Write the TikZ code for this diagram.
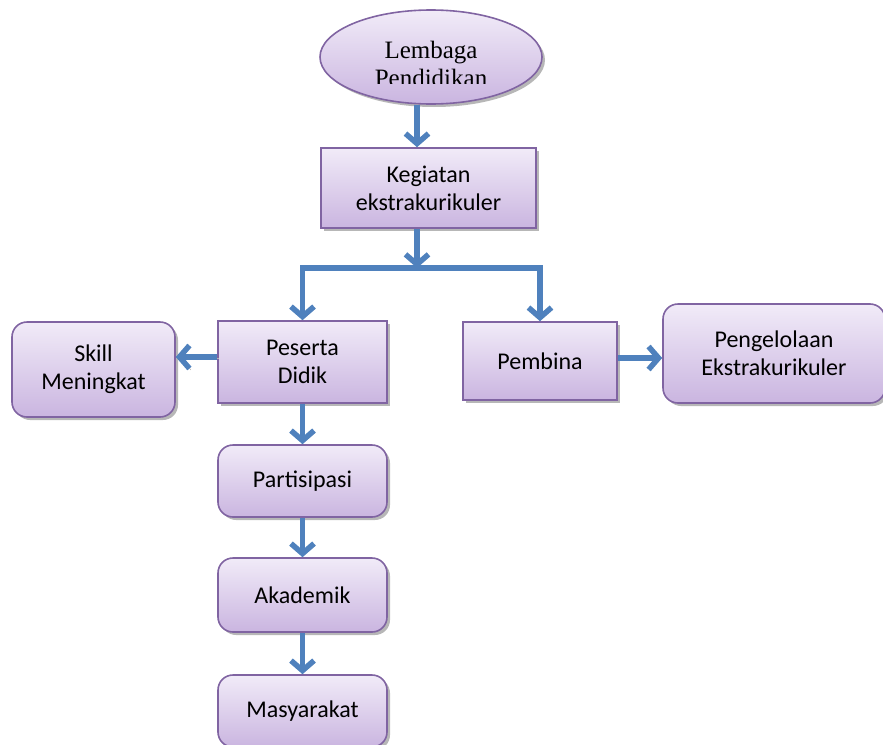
\documentclass[tikz,border=0pt]{standalone}
\usepackage{fontspec}
\setmainfont{Carlito}
\newfontfamily\lembagafont{Liberation Serif}
\usetikzlibrary{arrows.meta}
\usetikzlibrary{shapes.geometric}
\usetikzlibrary{shadows}
\definecolor{boxline}{HTML}{8064A2}
\definecolor{boxtop}{HTML}{F1EBF8}
\definecolor{boxbottom}{HTML}{CAB5E0}
\definecolor{flowblue}{HTML}{4F81BD}

\begin{document}
\begin{tikzpicture}[x=1pt, y=-1pt,
	box/.style={draw=boxline, line width=1.6pt, top color=boxtop, bottom color=boxbottom,
		align=center, inner sep=0pt, font=\fontsize{24}{28}\selectfont,
		drop shadow={shadow xshift=3pt, shadow yshift=-3pt, fill=black!40, opacity=.7}},
	rbox/.style={box, rounded corners=15pt},
	flow/.style={draw=flowblue, line width=5.5pt, -{Straight Barb[length=10pt,width=23pt]},
		preaction={draw=black!30, transform canvas={shift={(1.5pt,-1.5pt)}}}}]

	% Page frame
	\useasboundingbox (0,0) rectangle (883,744);

	% Top of the chart
	\node [box, ellipse, minimum width=222pt, minimum height=94pt] (lp) at (431,57) {};
	\begin{scope}
		\clip (300,0) rectangle (560,83);
		\node [font=\lembagafont\fontsize{25}{28}\selectfont, align=center, anchor=north, inner sep=0pt] (lptext) at (431,41) {Lembaga\\Pendidikan};
	\end{scope}
	\node [box, minimum width=215pt, minimum height=80pt] (kg) at (428.5,188) {Kegiatan\\ekstrakurikuler};

	% Two branches
	\node [box, minimum width=169pt, minimum height=82pt] (ps) at (302.5,362) {Peserta\\Didik};
	\node [rbox, minimum width=163pt, minimum height=95pt] (sk) at (93.5,369.5) {Skill\\Meningkat};
	\node [box, minimum width=154pt, minimum height=78pt] (pb) at (540,361) {Pembina};
	\node [rbox, minimum width=222pt, minimum height=99pt] (pg) at (774,353.5) {Pengelolaan\\Ekstrakurikuler};

	% Chain below the students
	\node [rbox, minimum width=169pt, minimum height=72pt] (pt) at (302.5,481) {Partisipasi};
	\node [rbox, minimum width=169pt, minimum height=74pt] (ak) at (302.5,595) {Akademik};
	\node [rbox, minimum width=169pt, minimum height=72pt] (ms) at (302.5,711) {Masyarakat};

	% Arrows
	\coordinate (split) at (417,268);
	\draw [flow] ([xshift=-14pt]lp.south) -- ([xshift=-14pt]lp.south |- kg.north);
	\draw [flow] ([xshift=-11.5pt]kg.south) -- (split);
	\draw [flow] (split) -| (ps.north);
	\draw [flow] (split) -| (pb.north);
	\draw [flow] ([yshift=5pt]ps.west) -- ([yshift=5pt]ps.west -| sk.east);
	\draw [flow] ([yshift=3pt]pb.east) -- ([yshift=3pt]pb.east -| pg.west);
	\draw [flow] (ps) -- (pt);
	\draw [flow] (pt) -- (ak);
	\draw [flow] (ak) -- (ms);

\end{tikzpicture}
\end{document}
